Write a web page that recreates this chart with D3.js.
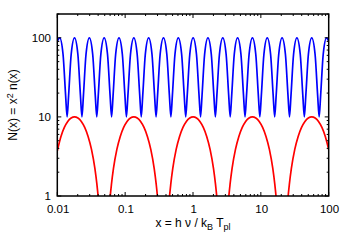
<!DOCTYPE html>
<html><head><meta charset="utf-8">
<script src="https://cdn.jsdelivr.net/npm/d3@7"></script>
<style>body{margin:0;background:#fff}svg{display:block}text{font-family:"Liberation Sans",Arial,Helvetica,sans-serif}</style>
</head><body>
<svg id="chart" width="350" height="245"></svg>
<script>
// ---- data ----
const xTicks = [0.01, 0.1, 1, 10, 100];
const xTickLabels = ["0.01", "0.1", "1", "10", "100"];
const yTicks = [1, 10, 100];
const yTickLabels = ["1", "10", "100"];

const blueX = [0.01,
 0.010849, 0.012149, 0.013268, 0.013952, 0.014672, 0.016022,
 0.017943, 0.020093, 0.021943, 0.023075, 0.024266, 0.026499,
 0.029676, 0.033233, 0.036292, 0.038164, 0.040133, 0.043827,
 0.049080, 0.054962, 0.060021, 0.063118, 0.066375, 0.072484,
 0.081172, 0.090901, 0.099268, 0.10439, 0.10978, 0.11988,
 0.13425, 0.15034, 0.16418, 0.17265, 0.18156, 0.19827,
 0.22203, 0.24864, 0.27153, 0.28554, 0.30027, 0.32791,
 0.36722, 0.41123, 0.44908, 0.47225, 0.49662, 0.54232,
 0.60733, 0.68012, 0.74272, 0.78104, 0.82134, 0.89694,
 1.0044, 1.1248, 1.2284, 1.2918, 1.3584, 1.4834,
 1.6612, 1.8603, 2.0316, 2.1364, 2.2466, 2.4534,
 2.7475, 3.0768, 3.3600, 3.5334, 3.7157, 4.0577,
 4.5440, 5.0886, 5.5570, 5.8437, 6.1452, 6.7109,
 7.5153, 8.4160, 9.1906, 9.6649, 10.163, 11.099,
 12.429, 13.919, 15.200, 15.984, 16.809, 18.356,
 20.557, 23.020, 25.139, 26.436, 27.800, 30.359,
 33.998, 38.073, 41.577, 43.723, 45.978, 50.211,
 56.229, 62.968, 68.764, 72.312, 76.043, 83.042,
 92.996, 100];
const blueY = [90,
 100, 62, 18.6, 10, 18.6, 62,
 100, 62, 18.6, 10, 18.6, 62,
 100, 62, 18.6, 10, 18.6, 62,
 100, 62, 18.6, 10, 18.6, 62,
 100, 62, 18.6, 10, 18.6, 62,
 100, 62, 18.6, 10, 18.6, 62,
 100, 62, 18.6, 10, 18.6, 62,
 100, 62, 18.6, 10, 18.6, 62,
 100, 62, 18.6, 10, 18.6, 62,
 100, 62, 18.6, 10, 18.6, 62,
 100, 62, 18.6, 10, 18.6, 62,
 100, 62, 18.6, 10, 18.6, 62,
 100, 62, 18.6, 10, 18.6, 62,
 100, 62, 18.6, 10, 18.6, 62,
 100, 62, 18.6, 10, 18.6, 62,
 100, 62, 18.6, 10, 18.6, 62,
 100, 62, 18.6, 10, 18.6, 62,
 100, 62, 18.6, 10, 18.6, 62,
 100, 90];

const redX = [
 0.01, 0.011321, 0.012703, 0.014253, 0.015992, 0.017943, 0.020132, 0.022589, 0.025345, 0.028438, 0.031908, 0.035801, 0.038361, 0.039939, 0.043042,
 0.055964, 0.060313, 0.062794, 0.067284, 0.075494, 0.084706, 0.095042, 0.10664, 0.11965, 0.13425, 0.15063, 0.16901, 0.18963, 0.21277, 0.23873, 0.26786, 0.28702, 0.29882, 0.32204,
 0.41873, 0.45126, 0.46982, 0.50342, 0.56484, 0.63377, 0.71110, 0.79786, 0.89522, 1.0044, 1.1270, 1.2645, 1.4188, 1.5919, 1.7862, 2.0041, 2.1475, 2.2358, 2.4095,
 3.1329, 3.3763, 3.5152, 3.7666, 4.2261, 4.7418, 5.3204, 5.9696, 6.6980, 7.5153, 8.4323, 9.4612, 10.616, 11.911, 13.364, 14.995, 16.067, 16.728, 18.028,
 23.440, 25.261, 26.301, 28.181, 31.620, 35.478, 39.807, 44.664, 50.114, 56.229, 63.090, 70.788, 79.425, 89.116, 100];
const redY = [
 3.73, 5.66, 7.36, 8.76, 9.68, 10, 9.68, 8.76, 7.36, 5.66, 3.88, 2.23, 1.40, 1.00, 0.41,
 0.41, 1.00, 1.40, 2.23, 3.88, 5.66, 7.36, 8.76, 9.68, 10, 9.68, 8.76, 7.36, 5.66, 3.88, 2.23, 1.40, 1.00, 0.41,
 0.41, 1.00, 1.40, 2.23, 3.88, 5.66, 7.36, 8.76, 9.68, 10, 9.68, 8.76, 7.36, 5.66, 3.88, 2.23, 1.40, 1.00, 0.41,
 0.41, 1.00, 1.40, 2.23, 3.88, 5.66, 7.36, 8.76, 9.68, 10, 9.68, 8.76, 7.36, 5.66, 3.88, 2.23, 1.40, 1.00, 0.41,
 0.41, 1.00, 1.40, 2.23, 3.88, 5.66, 7.36, 8.76, 9.68, 10, 9.68, 8.76, 7.36, 5.66, 3.88];

// ---- drawing ----
const L = 57.3, R = 328.7, T = 14, B = 196;
const svg = d3.select("#chart");
const x = d3.scaleLog().domain([0.01, 100]).range([L, R]);
const y = d3.scaleLog().domain([1, 200]).range([B, T]);

svg.append("defs").append("clipPath").attr("id", "clip")
  .append("rect").attr("x", L).attr("y", T).attr("width", R - L).attr("height", B - T);

const line = d3.line().x(d => x(d[0])).y(d => y(d[1])).curve(d3.curveMonotoneX);
const blue = blueX.map((v, i) => [v, blueY[i]]);
const red = redX.map((v, i) => [v, redY[i]]);

const g = svg.append("g").attr("clip-path", "url(#clip)");
g.append("path").attr("d", line(red)).attr("fill", "none").attr("stroke", "#ff0000").attr("stroke-width", 1.7);
g.append("path").attr("d", line(blue)).attr("fill", "none").attr("stroke", "#0000ff").attr("stroke-width", 1.7);

// ticks (inside, on all four sides)
const ax = svg.append("g").attr("stroke", "#000").attr("stroke-width", 1);
const xMinor = x.ticks().filter(v => !xTicks.some(t => Math.abs(t - v) / t < 1e-6));
const yMinor = y.ticks().filter(v => !yTicks.some(t => Math.abs(t - v) / t < 1e-6));
function xt(v, len) {
  ax.append("line").attr("x1", x(v)).attr("x2", x(v)).attr("y1", B).attr("y2", B - len);
  ax.append("line").attr("x1", x(v)).attr("x2", x(v)).attr("y1", T).attr("y2", T + len);
}
function yt(v, len) {
  ax.append("line").attr("y1", y(v)).attr("y2", y(v)).attr("x1", L).attr("x2", L + len);
  ax.append("line").attr("y1", y(v)).attr("y2", y(v)).attr("x1", R).attr("x2", R - len);
}
xTicks.forEach(v => xt(v, 4));
xMinor.forEach(v => xt(v, 2));
yTicks.forEach(v => yt(v, 4));
yMinor.forEach(v => yt(v, 2));

svg.append("rect").attr("x", L).attr("y", T).attr("width", R - L).attr("height", B - T)
  .attr("fill", "none").attr("stroke", "#000").attr("stroke-width", 1.5);

// tick labels
svg.append("g").selectAll("text").data(xTicks).join("text")
  .attr("x", d => x(d) + 0.8).attr("y", 213).attr("text-anchor", "middle")
  .attr("font-size", 11.5).attr("fill", "#000").text((d, i) => xTickLabels[i]);
svg.append("g").selectAll("text").data(yTicks).join("text")
  .attr("x", 51).attr("y", d => y(d) + 4).attr("text-anchor", "end")
  .attr("font-size", 11.5).attr("fill", "#000").text((d, i) => yTickLabels[i]);

// axis titles
const yl = svg.append("text").attr("transform", `translate(17,${(T + B) / 2}) rotate(-90)`)
  .attr("text-anchor", "middle").attr("font-size", 12).attr("fill", "#000");
yl.append("tspan").text("N(x) = x");
yl.append("tspan").attr("dy", -4.5).attr("font-size", 9).text("2");
yl.append("tspan").attr("dy", 4.5).text(" n(x)");

const xl = svg.append("text").attr("x", (L + R) / 2).attr("y", 227)
  .attr("text-anchor", "middle").attr("font-size", 12).attr("fill", "#000");
xl.append("tspan").text("x = h ν / k");
xl.append("tspan").attr("dy", 3).attr("font-size", 9).text("B");
xl.append("tspan").attr("dy", -3).text(" T");
xl.append("tspan").attr("dy", 3).attr("font-size", 9).text("pl");
</script>
</body></html>
